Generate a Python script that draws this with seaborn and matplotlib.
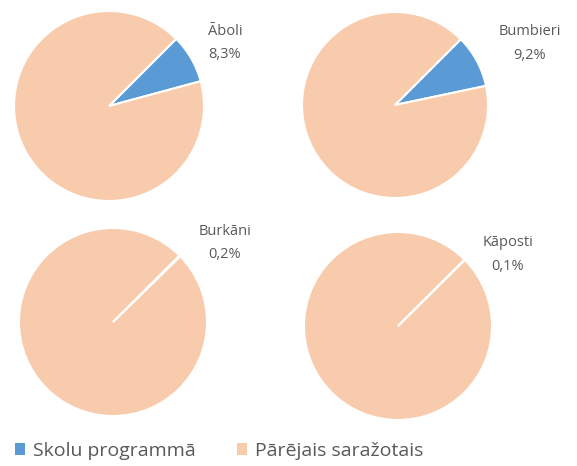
import matplotlib.pyplot as plt
import seaborn as sns
from matplotlib.patches import Patch

# Data
products = ['Āboli', 'Bumbieri', 'Burkāni', 'Kāposti']
school_share = [8.3, 9.2, 0.2, 0.1]
other_share = [91.7, 90.8, 99.8, 99.9]
series_names = ['Skolu programmā', 'Pārējais saražotais']

sns.set_theme(style='white')
plt.rcParams['font.family'] = ['Open Sans', 'DejaVu Sans']

colors = ['#5B9BD5', '#F8CBAD']
text_color = '#595959'

W, H = 577, 466
fig = plt.figure(figsize=(W / 100, H / 100), dpi=100)

# pie centres and radii in pixels (x, y from top, r)
pie_boxes = [(109, 106, 95), (395, 105, 93), (113, 322, 94), (398, 326, 94)]
# label offsets relative to pie centre, in pie radii
label_pos = [(1.22, 0.66), (1.45, 0.66), (1.19, 0.84), (1.17, 0.76)]

for i, name in enumerate(products):
    cx, cy, r = pie_boxes[i]
    ax = fig.add_axes([(cx - r) / W, (H - cy - r) / H, 2 * r / W, 2 * r / H])
    ax.pie([school_share[i], other_share[i]], colors=colors, startangle=45,
           counterclock=False, radius=1,
           wedgeprops=dict(edgecolor='white', linewidth=1.5))
    ax.set_xlim(-1, 1)
    ax.set_ylim(-1, 1)
    lx, ly = label_pos[i]
    pct = f'{school_share[i]:.1f}'.replace('.', ',') + '%'
    ax.text(lx, ly, f'{name}\n{pct}', ha='center', va='center', fontsize=10.5,
            color=text_color, linespacing=1.75, clip_on=False)

handles = [Patch(facecolor=c, edgecolor='none') for c in colors]
fig.legend(handles, series_names, loc='lower left', bbox_to_anchor=(-0.005, -0.025),
           ncol=2, frameon=False, fontsize=14, handlelength=0.55, handleheight=0.55,
           handletextpad=0.4, columnspacing=2.1, labelcolor=text_color)

plt.savefig('out.png', dpi=100)
plt.close()
